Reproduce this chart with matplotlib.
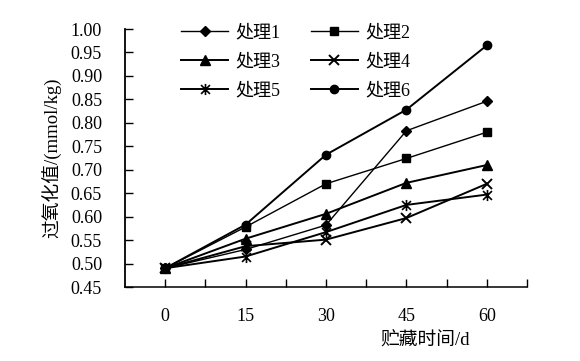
import matplotlib
matplotlib.use("Agg")
import matplotlib.pyplot as plt
from matplotlib.path import Path
import numpy as np

plt.rcParams['font.family'] = ['Liberation Serif', 'Noto Sans CJK SC', 'DejaVu Sans']

days = ["0", "15", "30", "45", "60"]
labels = ["处理1", "处理2", "处理3", "处理4", "处理5", "处理6"]
s1 = [0.49, 0.530, 0.582, 0.783, 0.846]
s2 = [0.49, 0.578, 0.670, 0.724, 0.780]
s3 = [0.49, 0.553, 0.606, 0.672, 0.710]
s4 = [0.49, 0.537, 0.551, 0.597, 0.670]
s5 = [0.49, 0.515, 0.567, 0.625, 0.647]
s6 = [0.49, 0.583, 0.732, 0.828, 0.965]
series = [s1, s2, s3, s4, s5, s6]

yticks = [0.45, 0.50, 0.55, 0.60, 0.65, 0.70, 0.75, 0.80, 0.85, 0.90, 0.95, 1.00]

star = Path([(0, -1), (0, 1), (-0.8, -0.8), (0.8, 0.8), (-0.8, 0.8), (0.8, -0.8)],
            [Path.MOVETO, Path.LINETO, Path.MOVETO, Path.LINETO, Path.MOVETO, Path.LINETO])

styles = [
    dict(marker='D', ms=5.0, lw=1.0),
    dict(marker='s', ms=6.0, lw=1.0),
    dict(marker='^', ms=7.0, lw=1.4),
    dict(marker='x', ms=7.0, lw=1.4, mew=1.4),
    dict(marker=star, ms=8.0, lw=1.4, mew=1.2),
    dict(marker='o', ms=6.0, lw=1.4),
]

fig = plt.figure(figsize=(5.8, 3.61), dpi=100)
ax = fig.add_axes([125/580, 1-287/361, 402/580, 258/361])

x = np.arange(len(days))
handles = []
for vals, lab, st in zip(series, labels, styles):
    h, = ax.plot(x, vals, color='black', label=lab, markerfacecolor='black',
                 markeredgecolor='black', **st)
    handles.append(h)

ax.set_xlim(-0.5, len(days) - 0.5)
ax.set_ylim(0.45, 1.00)
ax.set_xticks(x)
ax.set_xticklabels(days)
ax.set_xticks(np.arange(0.5, len(days), 1.0), minor=True)
ax.set_yticks(yticks)
ax.set_yticklabels([f"{v:.2f}" for v in yticks])

for s in ['top', 'right']:
    ax.spines[s].set_visible(False)
ax.spines['left'].set_linewidth(1.3)
ax.spines['bottom'].set_linewidth(1.1)

ax.tick_params(axis='both', which='both', direction='in', length=5.5, width=1.0,
               labelsize=13)
ax.tick_params(axis='x', which='both', pad=15)
ax.tick_params(axis='y', pad=16.5)

ax.set_ylabel("过氧化值/(mmol/kg)", fontsize=13.5, va='center')
ax.yaxis.set_label_coords(-0.184, 0.5)
ax.set_xlabel("贮藏时间/d", fontsize=13.5, va='center')
ax.xaxis.set_label_coords(0.746, -0.205)

order = [0, 2, 4, 1, 3, 5]
leg = ax.legend([handles[i] for i in order], [labels[i] for i in order],
                ncol=2, loc='upper left', bbox_to_anchor=(172/580, 1-15/361),
                bbox_transform=fig.transFigure, frameon=False, fontsize=13,
                handlelength=2.6, handletextpad=0.4, columnspacing=1.7,
                labelspacing=0.68, borderpad=0)

fig.savefig("out.png", dpi=100)
